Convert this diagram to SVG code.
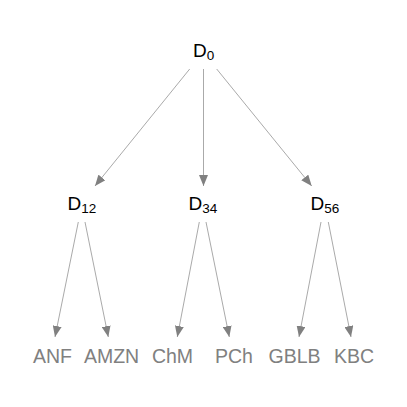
<svg xmlns="http://www.w3.org/2000/svg" width="407" height="407" viewBox="0 0 407 407">
<style>
.edge{stroke:#aaaaaa;stroke-width:1;fill:none;marker-end:url(#ah)}
.inner{font-family:"Liberation Sans",Arial,sans-serif;font-size:19px;fill:#000;text-anchor:middle}
.leaf{font-family:"Liberation Sans",Arial,sans-serif;font-size:19.5px;fill:#808080;text-anchor:middle}
.sub{font-size:13.5px}
</style>
<defs>
<marker id="ah" markerUnits="userSpaceOnUse" markerWidth="11" markerHeight="9" refX="11" refY="4.5" orient="auto">
<path d="M0,0 L11,4.5 L0,9 z" fill="#808080"/>
</marker>
</defs>
<rect width="407" height="407" fill="#fff"/>
<g id="connectors">
<line class="edge" x1="189.7" y1="69" x2="95" y2="186"/>
<line class="edge" x1="203.5" y1="69" x2="203.5" y2="186"/>
<line class="edge" x1="216.7" y1="69" x2="311.7" y2="186"/>
<line class="edge" x1="78.3" y1="222" x2="55" y2="337"/>
<line class="edge" x1="85" y1="222" x2="108.3" y2="337"/>
<line class="edge" x1="199.3" y1="222" x2="177.3" y2="337"/>
<line class="edge" x1="206" y1="222" x2="229.3" y2="337"/>
<line class="edge" x1="321" y1="222" x2="299" y2="337"/>
<line class="edge" x1="328.3" y1="222" x2="351" y2="337"/>
</g>
<g id="D0"><text class="inner" x="203.7" y="56.5">D<tspan class="sub" dy="3">0</tspan></text></g>
<g id="D12"><text class="inner" x="82" y="209.5">D<tspan class="sub" dy="3">12</tspan></text></g>
<g id="D34"><text class="inner" x="203" y="209.5">D<tspan class="sub" dy="3">34</tspan></text></g>
<g id="D56"><text class="inner" x="325" y="209.5">D<tspan class="sub" dy="3">56</tspan></text></g>
<g id="ANF"><text class="leaf" x="52.5" y="363">ANF</text></g>
<g id="AMZN"><text class="leaf" x="111.5" y="363">AMZN</text></g>
<g id="ChM"><text class="leaf" x="172.5" y="363">ChM</text></g>
<g id="PCh"><text class="leaf" x="234" y="363">PCh</text></g>
<g id="GBLB"><text class="leaf" x="294.5" y="363">GBLB</text></g>
<g id="KBC"><text class="leaf" x="354" y="363">KBC</text></g>
</svg>
